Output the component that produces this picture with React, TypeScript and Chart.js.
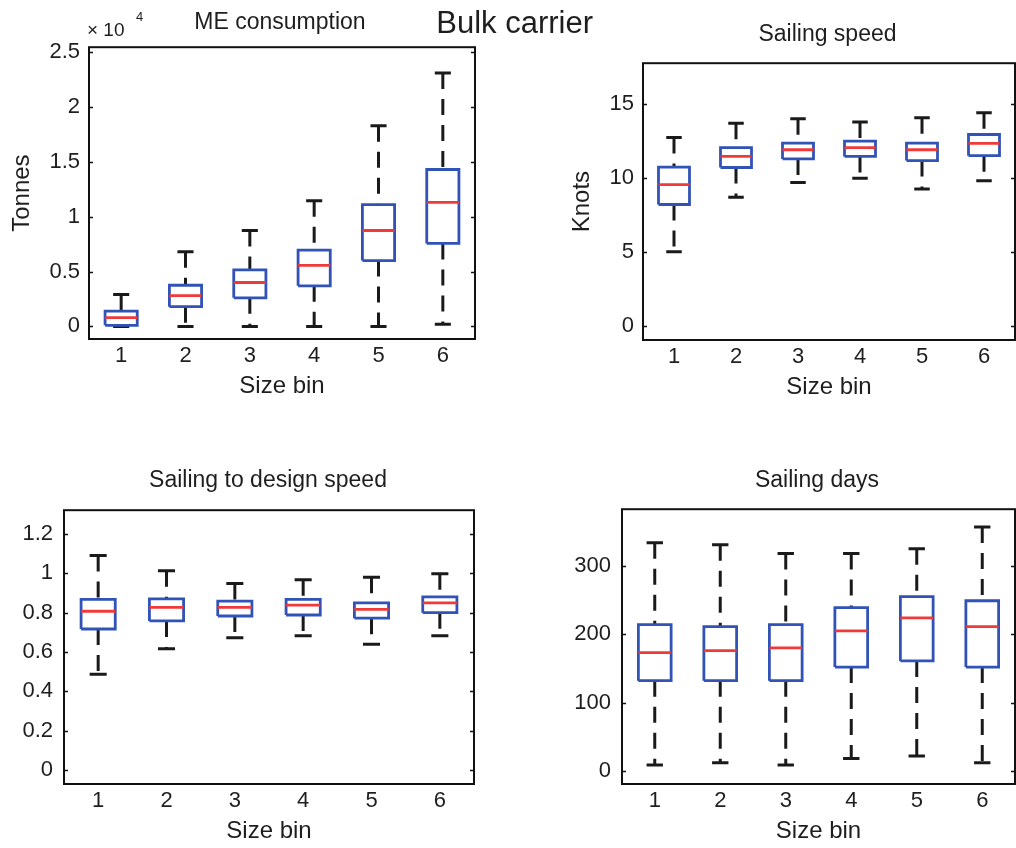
import React, { useEffect, useRef } from 'react';
import { Chart, registerables } from 'chart.js';

Chart.register(...registerables);

// ---------- data ----------
const sizeBins = ['1', '2', '3', '4', '5', '6'];
const binPositions = [1, 2, 3, 4, 5, 6];

// ME consumption, in units of 10^4 tonnes
const meLowerAdj = [0, 0, 0, 0, 0, 0.02];
const meQ1 = [0.01, 0.18, 0.26, 0.37, 0.6, 0.756];
const meMedian = [0.08, 0.28, 0.4, 0.557, 0.874, 1.13];
const meQ3 = [0.14, 0.375, 0.515, 0.695, 1.11, 1.43];
const meUpperAdj = [0.29, 0.68, 0.875, 1.146, 1.83, 2.31];
const meTicks = [0, 0.5, 1, 1.5, 2, 2.5];
const meTickLabels = ['0', '0.5', '1', '1.5', '2', '2.5'];

// Sailing speed, knots
const spLowerAdj = [5.0, 8.69, 9.69, 9.98, 9.24, 9.8];
const spQ1 = [8.2, 10.7, 11.28, 11.45, 11.17, 11.5];
const spMedian = [9.54, 11.45, 11.9, 12.04, 11.9, 12.33];
const spQ3 = [10.72, 12.04, 12.35, 12.48, 12.35, 12.93];
const spUpperAdj = [12.73, 13.69, 14.0, 13.78, 14.07, 14.4];
const spTicks = [0, 5, 10, 15];
const spTickLabels = ['0', '5', '10', '15'];

// Sailing to design speed, ratio
const dsLowerAdj = [0.487, 0.617, 0.672, 0.683, 0.64, 0.683];
const dsQ1 = [0.717, 0.758, 0.783, 0.788, 0.772, 0.8];
const dsMedian = [0.807, 0.827, 0.827, 0.838, 0.817, 0.85];
const dsQ3 = [0.867, 0.87, 0.858, 0.867, 0.85, 0.88];
const dsUpperAdj = [1.09, 1.013, 0.948, 0.967, 0.98, 0.997];
const dsTicks = [0, 0.2, 0.4, 0.6, 0.8, 1, 1.2];
const dsTickLabels = ['0', '0.2', '0.4', '0.6', '0.8', '1', '1.2'];

// Sailing days
const sdLowerAdj = [8.6, 12, 8.6, 18, 21.6, 12];
const sdQ1 = [132, 132, 132, 152, 161, 152];
const sdMedian = [173, 176, 180, 205, 224, 211];
const sdQ3 = [214, 211, 214, 239, 255, 249];
const sdUpperAdj = [334, 331, 318, 318, 325, 357];
const sdTicks = [0, 100, 200, 300];
const sdTickLabels = ['0', '100', '200', '300'];

// ---------- styles ----------
const FONT = '"Liberation Sans", Arial, Helvetica, sans-serif';
const TEXT = '#1e1e1e';
const BLUE = '#3152b6';
const RED = '#f03a3a';
const BLACK = '#1a1a1a';
const BOX_HALF = 0.25;
const CAP_HALF = 0.125;

type PanelDef = {
  lower: number[];
  q1: number[];
  median: number[];
  q3: number[];
  upper: number[];
  ticks: number[];
  tickLabels: string[];
  yMin: number;
  yMax: number;
  yTitle?: string;
  yTitlePad: number;
  frame: { left: number; top: number; right: number; bottom: number };
  axisW: number;
  padR: number;
  tickPad: number;
};

const PAD_TOP = 20;
const AXIS_H = 62;

const panels: PanelDef[] = [
  {
    lower: meLowerAdj, q1: meQ1, median: meMedian, q3: meQ3, upper: meUpperAdj,
    ticks: meTicks, tickLabels: meTickLabels, yMin: -0.115, yMax: 2.545,
    yTitle: 'Tonnes', yTitlePad: 8.1,
    frame: { left: 89, top: 45, right: 475, bottom: 339 }, axisW: 89, padR: 5, tickPad: 9,
  },
  {
    lower: spLowerAdj, q1: spQ1, median: spMedian, q3: spQ3, upper: spUpperAdj,
    ticks: spTicks, tickLabels: spTickLabels, yMin: -0.96, yMax: 17.75,
    yTitle: 'Knots', yTitlePad: 4.8,
    frame: { left: 643, top: 61, right: 1015, bottom: 340 }, axisW: 80, padR: 1, tickPad: 9,
  },
  {
    lower: dsLowerAdj, q1: dsQ1, median: dsMedian, q3: dsQ3, upper: dsUpperAdj,
    ticks: dsTicks, tickLabels: dsTickLabels, yMin: -0.07, yMax: 1.32,
    yTitlePad: 0,
    frame: { left: 64, top: 506, right: 474, bottom: 784 }, axisW: 60, padR: 5, tickPad: 11,
  },
  {
    lower: sdLowerAdj, q1: sdQ1, median: sdMedian, q3: sdQ3, upper: sdUpperAdj,
    ticks: sdTicks, tickLabels: sdTickLabels, yMin: -19.2, yMax: 383,
    yTitlePad: 0,
    frame: { left: 622, top: 505, right: 1015, bottom: 784 }, axisW: 60, padR: 1, tickPad: 11,
  },
];

const titles = [
  { text: 'Bulk carrier', x: 514.7, cy: 22.5, fs: 31 },
  { text: 'ME consumption', x: 280, cy: 21.7, fs: 23 },
  { text: 'Sailing speed', x: 827.5, cy: 33.3, fs: 23 },
  { text: 'Sailing to design speed', x: 268, cy: 479, fs: 23 },
  { text: 'Sailing days', x: 817, cy: 479.5, fs: 23 },
];

function buildDatasets(p: PanelDef) {
  const ds: any[] = [];
  const base = {
    showLine: true,
    pointRadius: 0,
    pointHoverRadius: 0,
    tension: 0,
    fill: false,
    borderJoinStyle: 'miter',
    borderCapStyle: 'butt',
  };
  binPositions.forEach((x, i) => {
    // median
    ds.push({
      ...base, order: 0, borderColor: RED, borderWidth: 2.8,
      data: [{ x: x - BOX_HALF, y: p.median[i] }, { x: x + BOX_HALF, y: p.median[i] }],
    });
    // box
    ds.push({
      ...base, order: 1, borderColor: BLUE, borderWidth: 2.8,
      data: [
        { x: x - BOX_HALF, y: p.q1[i] },
        { x: x + BOX_HALF, y: p.q1[i] },
        { x: x + BOX_HALF, y: p.q3[i] },
        { x: x - BOX_HALF, y: p.q3[i] },
        { x: x - BOX_HALF, y: p.q1[i] },
      ],
    });
    // caps
    ds.push({
      ...base, order: 2, borderColor: BLACK, borderWidth: 3,
      data: [{ x: x - CAP_HALF, y: p.upper[i] }, { x: x + CAP_HALF, y: p.upper[i] }],
    });
    ds.push({
      ...base, order: 2, borderColor: BLACK, borderWidth: 3,
      data: [{ x: x - CAP_HALF, y: p.lower[i] }, { x: x + CAP_HALF, y: p.lower[i] }],
    });
    // whiskers (drawn top to bottom)
    ds.push({
      ...base, order: 3, borderColor: BLACK, borderWidth: 3, borderDash: [16, 10],
      data: [{ x, y: p.upper[i] }, { x, y: p.q3[i] }],
    });
    ds.push({
      ...base, order: 3, borderColor: BLACK, borderWidth: 3, borderDash: [16, 10],
      data: [{ x, y: p.q1[i] }, { x, y: p.lower[i] }],
    });
  });
  return ds;
}

const framePlugin = {
  id: 'matlabFrame',
  afterDraw(chart: any) {
    const { ctx, chartArea } = chart;
    const yScale = chart.scales.y;
    ctx.save();
    ctx.strokeStyle = '#111';
    ctx.lineWidth = 1.5;
    yScale.ticks.forEach((t: any) => {
      const py = Math.round(yScale.getPixelForValue(t.value)) + 0.5;
      ctx.beginPath();
      ctx.moveTo(chartArea.left, py);
      ctx.lineTo(chartArea.left + 4, py);
      ctx.moveTo(chartArea.right, py);
      ctx.lineTo(chartArea.right - 4, py);
      ctx.stroke();
    });
    ctx.lineWidth = 2;
    ctx.strokeStyle = '#111';
    ctx.strokeRect(chartArea.left, chartArea.top, chartArea.right - chartArea.left, chartArea.bottom - chartArea.top);
    ctx.restore();
  },
};

function BoxPanel({ p }: { p: PanelDef }) {
  const ref = useRef<HTMLCanvasElement | null>(null);
  const width = p.axisW + (p.frame.right - p.frame.left) + p.padR;
  const height = PAD_TOP + (p.frame.bottom - p.frame.top) + AXIS_H;

  useEffect(() => {
    if (!ref.current) return;
    const chart = new Chart(ref.current, {
      type: 'scatter',
      data: { datasets: buildDatasets(p) },
      options: {
        animation: false,
        responsive: false,
        devicePixelRatio: 1,
        events: [],
        layout: { padding: { left: 0, top: PAD_TOP, right: p.padR, bottom: 0 } },
        plugins: { legend: { display: false }, tooltip: { enabled: false }, title: { display: false } },
        scales: {
          x: {
            type: 'linear',
            min: 0.5,
            max: 6.5,
            afterBuildTicks: (s: any) => { s.ticks = binPositions.map((v) => ({ value: v })); },
            afterFit: (s: any) => { s.height = AXIS_H; },
            ticks: {
              callback: (_v: any, i: number) => sizeBins[i],
              font: { family: FONT, size: 22 },
              color: TEXT,
              padding: 4,
              maxRotation: 0,
              autoSkip: false,
            },
            grid: { display: false, drawTicks: false },
            border: { display: false },
            title: {
              display: true,
              text: 'Size bin',
              font: { family: FONT, size: 24 },
              color: TEXT,
              padding: { top: 0, bottom: 0.6 },
            },
          },
          y: {
            type: 'linear',
            min: p.yMin,
            max: p.yMax,
            afterBuildTicks: (s: any) => { s.ticks = p.ticks.map((v) => ({ value: v })); },
            afterFit: (s: any) => { s.width = p.axisW; },
            ticks: {
              callback: (_v: any, i: number) => p.tickLabels[i],
              font: { family: FONT, size: 22 },
              color: TEXT,
              padding: p.tickPad,
              autoSkip: false,
            },
            grid: { display: false, drawTicks: false },
            border: { display: false },
            title: {
              display: !!p.yTitle,
              text: p.yTitle || '',
              font: { family: FONT, size: 24 },
              color: TEXT,
              padding: { top: p.yTitlePad, bottom: 0 },
            },
          },
        },
      } as any,
      plugins: [framePlugin],
    });
    return () => chart.destroy();
  }, []);

  return (
    <canvas
      ref={ref}
      width={width}
      height={height}
      style={{
        position: 'absolute',
        left: p.frame.left - p.axisW,
        top: p.frame.top - PAD_TOP,
        width,
        height,
        display: 'block',
      }}
    />
  );
}

export default function App() {
  return (
    <div style={{ position: 'absolute', left: 0, top: 0, width: 1016, height: 848, background: '#fff', overflow: 'hidden', fontFamily: FONT }}>
      {panels.map((p, i) => (
        <BoxPanel key={i} p={p} />
      ))}
      {titles.map((t, i) => (
        <div
          key={'t' + i}
          style={{
            position: 'absolute',
            left: t.x - 250,
            width: 500,
            top: t.cy - 0.49 * t.fs,
            fontSize: t.fs,
            lineHeight: `${t.fs}px`,
            textAlign: 'center',
            whiteSpace: 'nowrap',
            color: TEXT,
          }}
        >
          {t.text}
        </div>
      ))}
      <div style={{ position: 'absolute', left: 87, top: 29 - 0.49 * 19, fontSize: 19, lineHeight: '19px', color: TEXT, whiteSpace: 'pre' }}>
        {'× 10'}
      </div>
      <div style={{ position: 'absolute', left: 136, top: 16 - 0.49 * 13, fontSize: 13, lineHeight: '13px', color: TEXT }}>
        4
      </div>
    </div>
  );
}
